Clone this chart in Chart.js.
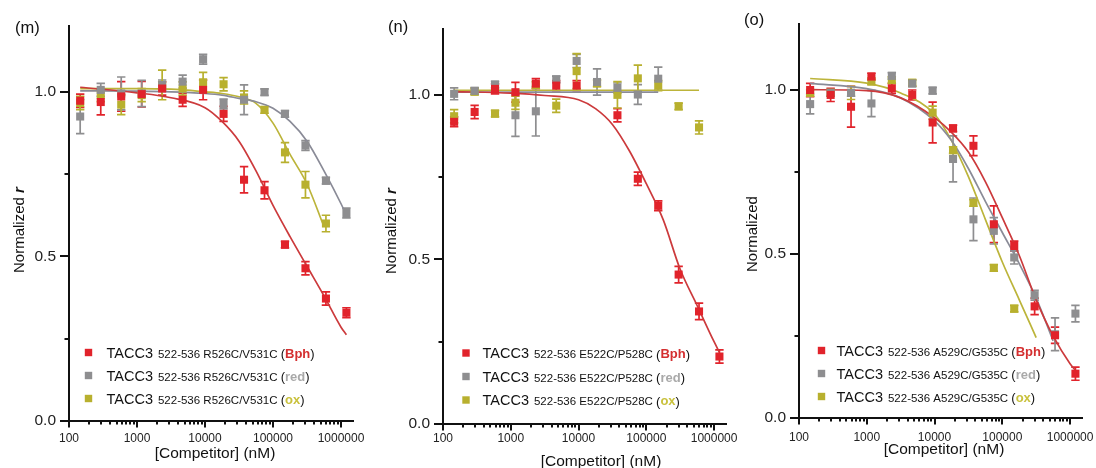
<!DOCTYPE html>
<html>
<head>
<meta charset="utf-8">
<script src="https://cdn.jsdelivr.net/npm/chart.js@4.4.1/dist/chart.umd.min.js"></script>
<style>
  html, body { margin: 0; padding: 0; background: #fff; }
  #wrap { position: relative; width: 1096px; height: 468px; overflow: hidden; }
  #wrap canvas { position: absolute; left: 0; top: 0; }
</style>
</head>
<body>
<div id="wrap">
  <canvas id="chartM" width="1096" height="468"></canvas>
  <canvas id="chartN" width="1096" height="468"></canvas>
  <canvas id="chartO" width="1096" height="468"></canvas>
</div>
<script>
// competitor concentrations (nM), 2-fold dilution series
const conc = [146, 293, 586, 1172, 2344, 4688, 9375, 18750, 37500, 75000, 150000, 300000, 600000, 1200000];
const fitConc = [146, 1000, 3160, 10000, 17800, 31600, 56200, 100000, 178000, 316000, 562000, 1000000, 1200000];
const xTickLabels = ["100", "1000", "10000", "100000", "1000000"];
const yTickLabels = ["0.0", "0.5", "1.0"];

// (m) R526C/V531C
const mBph    = [0.973, 0.969, 0.986, 0.993, 1.010, 0.976, 1.006, 0.933, 0.733, 0.701, 0.536, 0.464, 0.372, 0.329];
const mBphErr = [0.020, 0.039, 0.045, 0.039, 0.020, 0.020, 0.030, 0.023, 0.040, 0.026, 0.010, 0.020, 0.020, 0.015];
const mRed    = [0.925, 1.006, 0.995, 0.995, 1.021, 1.031, 1.099, 0.963, 0.976, 0.999, 0.933, 0.837, 0.730, 0.632];
const mRedErr = [0.052, 0.020, 0.050, 0.040, 0.015, 0.020, 0.015, 0.015, 0.045, 0.010, 0.010, 0.015, 0.010, 0.015];
const mOx     = [0.966, 0.990, 0.961, 0.990, 1.021, 1.010, 1.029, 1.023, 0.983, 0.945, 0.816, 0.718, 0.600];
const mOxErr  = [0.020, 0.020, 0.030, 0.020, 0.045, 0.020, 0.030, 0.020, 0.020, 0.010, 0.030, 0.040, 0.025];
const mBphFit = [1.014, 0.997, 0.982, 0.952, 0.910, 0.850, 0.760, 0.655, 0.560, 0.470, 0.380, 0.285, 0.262];
const mRedFit = [1.003, 1.002, 1.000, 0.995, 0.990, 0.980, 0.970, 0.950, 0.910, 0.850, 0.760, 0.660, 0.625];
const mOxFit  = [1.010, 1.010, 1.008, 1.000, 0.995, 0.985, 0.965, 0.905, 0.810, 0.720, 0.590];

// (n) E522C/P528C
const nBph    = [0.918, 0.948, 1.018, 1.008, 1.034, 1.028, 1.028, null, 0.938, 0.745, 0.663, 0.454, 0.342, 0.205];
const nBphErr = [0.015, 0.020, 0.015, 0.030, 0.015, 0.015, 0.015, null, 0.020, 0.020, 0.015, 0.025, 0.025, 0.020];
const nRed    = [1.003, 1.012, 1.031, 0.938, 0.950, 1.047, 1.103, 1.039, 1.021, 1.001, 1.049];
const nRedErr = [0.018, 0.010, 0.010, 0.064, 0.075, 0.010, 0.020, 0.040, 0.015, 0.030, 0.035];
const nOx     = [0.935, 1.010, 0.943, 0.976, 1.030, 0.967, 1.072, 1.035, 1.000, 1.050, 1.028, 0.965, 0.901];
const nOxErr  = [0.020, 0.010, 0.010, 0.020, 0.010, 0.020, 0.053, 0.010, 0.040, 0.040, 0.015, 0.010, 0.020];
const nBphFit = [1.010, 1.005, 0.998, 0.985, 0.958, 0.910, 0.830, 0.730, 0.620, 0.470, 0.360, 0.250, 0.218];
const nRedFitX = [146, 150000];
const nRedFit  = [1.008, 1.008];
const nOxFitX  = [146, 600000];
const nOxFit   = [1.014, 1.014];

// (o) A529C/G535C
const oBph    = [0.999, 0.984, 0.948, 1.040, 1.004, 0.984, 0.900, 0.882, 0.829, 0.590, 0.524, 0.340, 0.252, 0.135];
const oBphErr = [0.020, 0.020, 0.062, 0.010, 0.015, 0.015, 0.062, 0.010, 0.030, 0.056, 0.015, 0.025, 0.025, 0.020];
const oRed    = [0.956, 0.990, 0.990, 0.958, 1.042, 1.019, 0.997, 0.789, 0.605, 0.570, 0.489, 0.374, 0.255, 0.318];
const oRedErr = [0.030, 0.010, 0.010, 0.040, 0.010, 0.010, 0.010, 0.070, 0.065, 0.040, 0.020, 0.015, 0.050, 0.025];
const oOx     = [0.990, 0.990, 0.990, 1.025, 1.029, 1.021, 0.930, 0.816, 0.655, 0.457, 0.333];
const oOxErr  = [0.010, 0.010, 0.020, 0.010, 0.010, 0.010, 0.020, 0.010, 0.010, 0.010, 0.010];
const oBphFit = [1.000, 0.997, 0.975, 0.915, 0.870, 0.810, 0.720, 0.610, 0.495, 0.360, 0.250, 0.165, 0.145];
const oRedFit = [1.019, 1.003, 0.975, 0.905, 0.845, 0.760, 0.660, 0.565, 0.470, 0.365, 0.235];
const oOxFit  = [1.034, 1.020, 0.990, 0.925, 0.845, 0.735, 0.605, 0.475, 0.360, 0.245];

const legendMain = "TACC3";
const mutM = "522-536 R526C/V531C";
const mutN = "522-536 E522C/P528C";
const mutO = "522-536 A529C/G535C";
const xTitle = "[Competitor] (nM)";

const FONT = '"Liberation Sans", Arial, Helvetica, sans-serif';
const COL = {
    bph: "#e1232b", red: "#8e8e90", ox: "#b8b02e",
    bphLine: "#cc3a3c", redLine: "#8a8b97", oxLine: "#bcb43a",
    bphTag: "#d42f30", redTag: "#a9a9a9", oxTag: "#c9c13c"
};

function pts(xs, ys, es) {
    const out = [];
    ys.forEach((y, i) => {
        if (y !== null) out.push({ x: xs[i], y: y, e: es ? es[i] : null });
    });
    return out;
}

function scatterSet(data, color) {
    return {
        data: data, showLine: false, pointStyle: "rect", pointRadius: 5.7,
        backgroundColor: color, borderWidth: 0, clip: false
    };
}

function fitSet(data, color) {
    return {
        data: data, showLine: true, pointRadius: 0, borderColor: color,
        borderWidth: 1.7, cubicInterpolationMode: "monotone", fill: false, clip: false
    };
}

const errorBars = {
    id: "errorBars",
    beforeDatasetsDraw(chart) {
        const ctx = chart.ctx;
        const yS = chart.scales.y;
        ctx.save();
        ctx.lineWidth = 1.7;
        chart.data.datasets.forEach((ds, di) => {
            if (ds.showLine) return;
            const meta = chart.getDatasetMeta(di);
            ctx.strokeStyle = ds.backgroundColor;
            ctx.beginPath();
            ds.data.forEach((p, i) => {
                if (p.e == null) return;
                const x = meta.data[i].x;
                const y1 = yS.getPixelForValue(p.y + p.e);
                const y2 = yS.getPixelForValue(p.y - p.e);
                ctx.moveTo(x, y1); ctx.lineTo(x, y2);
                ctx.moveTo(x - 4.2, y1); ctx.lineTo(x + 4.2, y1);
                ctx.moveTo(x - 4.2, y2); ctx.lineTo(x + 4.2, y2);
            });
            ctx.stroke();
        });
        ctx.restore();
    }
};

const tickMarks = {
    id: "tickMarks",
    afterDraw(chart) {
        const { ctx, chartArea: a, scales: { x, y } } = chart;
        ctx.save();
        ctx.strokeStyle = "#111";
        ctx.lineWidth = 2;
        ctx.beginPath();
        y.ticks.forEach(t => {
            if (t.value > 1.0001) return;
            const py = Math.round(y.getPixelForValue(t.value));
            const len = t.label ? 9 : 4.5;
            ctx.moveTo(a.left - len, py); ctx.lineTo(a.left, py);
        });
        x.ticks.forEach(t => {
            const lg = Math.log10(t.value);
            const mant = t.value / Math.pow(10, Math.floor(lg + 1e-9));
            if (Math.abs(mant - Math.round(mant)) > 1e-6) return;
            const px = Math.round(x.getPixelForValue(t.value));
            const len = Math.round(mant) === 1 ? 6.5 : 3.5;
            ctx.moveTo(px, a.bottom); ctx.lineTo(px, a.bottom + len);
        });
        ctx.stroke();
        ctx.restore();
    }
};

const decor = {
    id: "decor",
    afterDraw(chart, args, o) {
        const ctx = chart.ctx;
        ctx.save();
        ctx.fillStyle = "#111";
        ctx.textBaseline = "middle";
        ctx.textAlign = "left";
        ctx.font = "16.5px " + FONT;
        ctx.fillText(o.panel, o.panelX, o.panelY);

        // y title, rotated
        ctx.save();
        ctx.translate(o.yTitleX, o.yTitleY);
        ctx.rotate(-Math.PI / 2);
        ctx.font = "15px " + FONT;
        ctx.fillText("Normalized", 0, 0);
        if (o.yTitleR) {
            const w = ctx.measureText("Normalized ").width;
            ctx.font = "italic bold 15px " + FONT;
            ctx.fillText("r", w, 0);
        }
        ctx.restore();

        // x title
        ctx.font = "15.5px " + FONT;
        ctx.textAlign = "center";
        ctx.fillText(xTitle, o.xTitleX, o.xTitleY);

        // legend
        ctx.textAlign = "left";
        ctx.textBaseline = "alphabetic";
        o.rows.forEach((row, k) => {
            const cy = o.legendY + k * o.legendDy;
            const base = cy + 5.2;
            ctx.fillStyle = row.color;
            ctx.fillRect(o.legendX - 3.7, cy - 3.7, 7.4, 7.4);
            let x = o.legendTextX;
            ctx.fillStyle = "#111";
            ctx.font = "14.5px " + FONT;
            ctx.fillText(legendMain, x, base);
            x += ctx.measureText(legendMain).width + 5;
            ctx.font = "11.5px " + FONT;
            ctx.fillText(o.sub, x, base);
            x += ctx.measureText(o.sub + " ").width;
            ctx.font = "13px " + FONT;
            ctx.fillText("(", x, base + 0.5);
            x += ctx.measureText("(").width;
            ctx.font = "bold 13px " + FONT;
            ctx.fillStyle = row.tagColor;
            ctx.fillText(row.tag, x, base);
            x += ctx.measureText(row.tag).width;
            ctx.font = "13px " + FONT;
            ctx.fillStyle = "#111";
            ctx.fillText(")", x, base + 0.5);
        });
        ctx.restore();
    }
};

function makePanel(id, p) {
    const Y_W = 40, X_H = 30;
    new Chart(document.getElementById(id), {
        type: "scatter",
        data: {
            datasets: [
                scatterSet(pts(conc, p.bph, p.bphErr), COL.bph),
                scatterSet(pts(conc, p.red, p.redErr), COL.red),
                scatterSet(pts(conc, p.ox, p.oxErr), COL.ox),
                fitSet(pts(p.bphFitX, p.bphFit), COL.bphLine),
                fitSet(pts(p.redFitX, p.redFit), COL.redLine),
                fitSet(pts(p.oxFitX, p.oxFit), COL.oxLine)
            ]
        },
        options: {
            responsive: false,
            animation: false,
            devicePixelRatio: 1,
            layout: {
                padding: {
                    left: p.area.left - Y_W,
                    right: 1096 - p.area.right,
                    top: p.area.top,
                    bottom: 468 - p.area.bottom - X_H
                }
            },
            plugins: {
                legend: { display: false },
                tooltip: { enabled: false },
                decor: p.decor
            },
            scales: {
                x: {
                    type: "logarithmic",
                    position: "bottom",
                    min: 100,
                    max: 1500000,
                    afterFit: s => { s.height = X_H; },
                    grid: { display: true, drawOnChartArea: false, drawTicks: false },
                    border: { display: true, color: "#111", width: 2 },
                    ticks: {
                        autoSkip: false, maxRotation: 0, minRotation: 0,
                        padding: p.xPad, color: "#222",
                        font: { family: FONT, size: 12 },
                        callback: v => {
                            const lg = Math.log10(v);
                            if (Math.abs(lg - Math.round(lg)) > 1e-6) return "";
                            return xTickLabels[Math.round(lg) - 2] || "";
                        }
                    }
                },
                y: {
                    min: 0,
                    max: 1.2,
                    afterFit: s => { s.width = Y_W; },
                    grid: { display: true, drawOnChartArea: false, drawTicks: false },
                    border: { display: true, color: "#111", width: 2 },
                    ticks: {
                        stepSize: 0.25, padding: 13, color: "#222",
                        font: { family: FONT, size: 15.5 },
                        callback: v => {
                            const k = v * 2;
                            if (Math.abs(k - Math.round(k)) > 1e-9) return "";
                            return yTickLabels[Math.round(k)] || "";
                        }
                    }
                }
            }
        },
        plugins: [errorBars, tickMarks, decor]
    });
}

makePanel("chartM", {
    bph: mBph, bphErr: mBphErr, red: mRed, redErr: mRedErr, ox: mOx, oxErr: mOxErr,
    bphFitX: fitConc, bphFit: mBphFit, redFitX: fitConc, redFit: mRedFit, oxFitX: fitConc, oxFit: mOxFit,
    area: { left: 69, right: 353, top: 26, bottom: 421 },
    xPad: 10,
    decor: {
        panel: "(m)", panelX: 15, panelY: 28,
        yTitleX: 20, yTitleY: 273, yTitleR: true,
        xTitleX: 215, xTitleY: 454,
        legendX: 88.5, legendTextX: 106.5, legendY: 352.5, legendDy: 23, sub: mutM,
        rows: [
            { color: COL.bph, tag: "Bph", tagColor: COL.bphTag },
            { color: COL.red, tag: "red", tagColor: COL.redTag },
            { color: COL.ox, tag: "ox", tagColor: COL.oxTag }
        ]
    }
});

makePanel("chartN", {
    bph: nBph, bphErr: nBphErr, red: nRed, redErr: nRedErr, ox: nOx, oxErr: nOxErr,
    bphFitX: fitConc, bphFit: nBphFit, redFitX: nRedFitX, redFit: nRedFit, oxFitX: nOxFitX, oxFit: nOxFit,
    area: { left: 443, right: 726, top: 29, bottom: 424 },
    xPad: 7,
    decor: {
        panel: "(n)", panelX: 388, panelY: 27,
        yTitleX: 392, yTitleY: 274, yTitleR: true,
        xTitleX: 601, xTitleY: 462,
        legendX: 466, legendTextX: 482.5, legendY: 353, legendDy: 23.5, sub: mutN,
        rows: [
            { color: COL.bph, tag: "Bph", tagColor: COL.bphTag },
            { color: COL.red, tag: "red", tagColor: COL.redTag },
            { color: COL.ox, tag: "ox", tagColor: COL.oxTag }
        ]
    }
});

makePanel("chartO", {
    bph: oBph, bphErr: oBphErr, red: oRed, redErr: oRedErr, ox: oOx, oxErr: oOxErr,
    bphFitX: fitConc, bphFit: oBphFit, redFitX: fitConc, redFit: oRedFit, oxFitX: fitConc, oxFit: oOxFit,
    area: { left: 799, right: 1082, top: 24, bottom: 418 },
    xPad: 12,
    decor: {
        panel: "(o)", panelX: 744, panelY: 20,
        yTitleX: 753, yTitleY: 272, yTitleR: false,
        xTitleX: 944, xTitleY: 450,
        legendX: 821.5, legendTextX: 836.5, legendY: 350.5, legendDy: 23, sub: mutO,
        rows: [
            { color: COL.bph, tag: "Bph", tagColor: COL.bphTag },
            { color: COL.red, tag: "red", tagColor: COL.redTag },
            { color: COL.ox, tag: "ox", tagColor: COL.oxTag }
        ]
    }
});
</script>
</body>
</html>
